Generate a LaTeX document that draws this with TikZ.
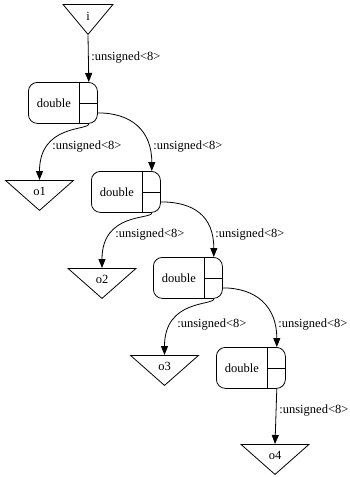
\documentclass[tikz,border=0pt]{standalone}
\usepackage{fontspec}
\setmainfont{Liberation Serif}
\usetikzlibrary{shapes.geometric,arrows.meta,positioning,calc}

\begin{document}
\begin{tikzpicture}[
        x=1pt, y=-1pt,
        font=\fontsize{12.5}{14}\selectfont,
        line width=0.8pt,
        >={Triangle[length=9pt,width=7pt]},
        % Block styles
        outp/.style={
            isosceles triangle,
            shape border rotate=270,
            isosceles triangle stretches,
            draw,
            minimum width=68pt,
            minimum height=30pt,
            inner sep=0pt,
            anchor=north
        },
        dbl/.style={
            rectangle,
            draw,
            rounded corners=9pt,
            minimum width=69pt,
            minimum height=41pt,
            inner sep=0pt,
            anchor=north west
        },
        wire/.style={->},
        elabel/.style={anchor=west, inner sep=0pt}
    ]
    \useasboundingbox (0,0) rectangle (350,477);

    % Input
    \node[outp, minimum width=50pt] (i) at (88,4) {i};

    % Double blocks
    \node[dbl] (d1) at (28,82) {double\hspace*{18pt}};
    \node[dbl] (d2) at (91,171) {double\hspace*{18pt}};
    \node[dbl] (d3) at (153,257) {double\hspace*{18pt}};
    \node[dbl] (d4) at (216,347) {double\hspace*{18pt}};
    \foreach \n in {d1,d2,d3,d4} {
        \draw ([xshift=-18pt]\n.north east) -- ([xshift=-18pt]\n.south east);
        \draw ([xshift=-18pt]\n.east) -- (\n.east);
    }

    % Outputs
    \node[outp] (o1) at (39.5,180) {o1};
    \node[outp] (o2) at (102,268) {o2};
    \node[outp] (o3) at (164.5,355) {o3};
    \node[outp] (o4) at (275,444) {o4};

    % Connections
    \draw[wire] (i.apex) -- ([xshift=-9pt]d1.north east);
    \draw[wire] ([xshift=-9pt]d1.south east) .. controls +(0,7) and +(0,-56) .. (o1.north);
    \draw[wire] ([yshift=-10pt]d1.east) .. controls +(33,0) and +(0,-41) .. ([xshift=-9pt]d2.north east);
    \draw[wire] ([xshift=-9pt]d2.south east) .. controls +(0,7) and +(0,-56) .. (o2.north);
    \draw[wire] ([yshift=-10pt]d2.east) .. controls +(33,0) and +(0,-41) .. ([xshift=-9pt]d3.north east);
    \draw[wire] ([xshift=-9pt]d3.south east) .. controls +(0,7) and +(0,-56) .. (o3.north);
    \draw[wire] ([yshift=-10pt]d3.east) .. controls +(33,0) and +(0,-41) .. ([xshift=-9pt]d4.north east);
    \draw[wire] ([xshift=-9pt]d4.south east) -- (o4.north);

    % Edge labels
    \node[elabel] (l0) at (91,58) {:unsigned<8>};
    \node[elabel] (l1) at (52,147) {:unsigned<8>};
    \node[elabel] (l2) at (153,147) {:unsigned<8>};
    \node[elabel] (l3) at (115,235) {:unsigned<8>};
    \node[elabel] (l4) at (215,235) {:unsigned<8>};
    \node[elabel] (l5) at (177,325) {:unsigned<8>};
    \node[elabel] (l6) at (278,325) {:unsigned<8>};
    \node[elabel] (l7) at (279,411) {:unsigned<8>};

\end{tikzpicture}
\end{document}
